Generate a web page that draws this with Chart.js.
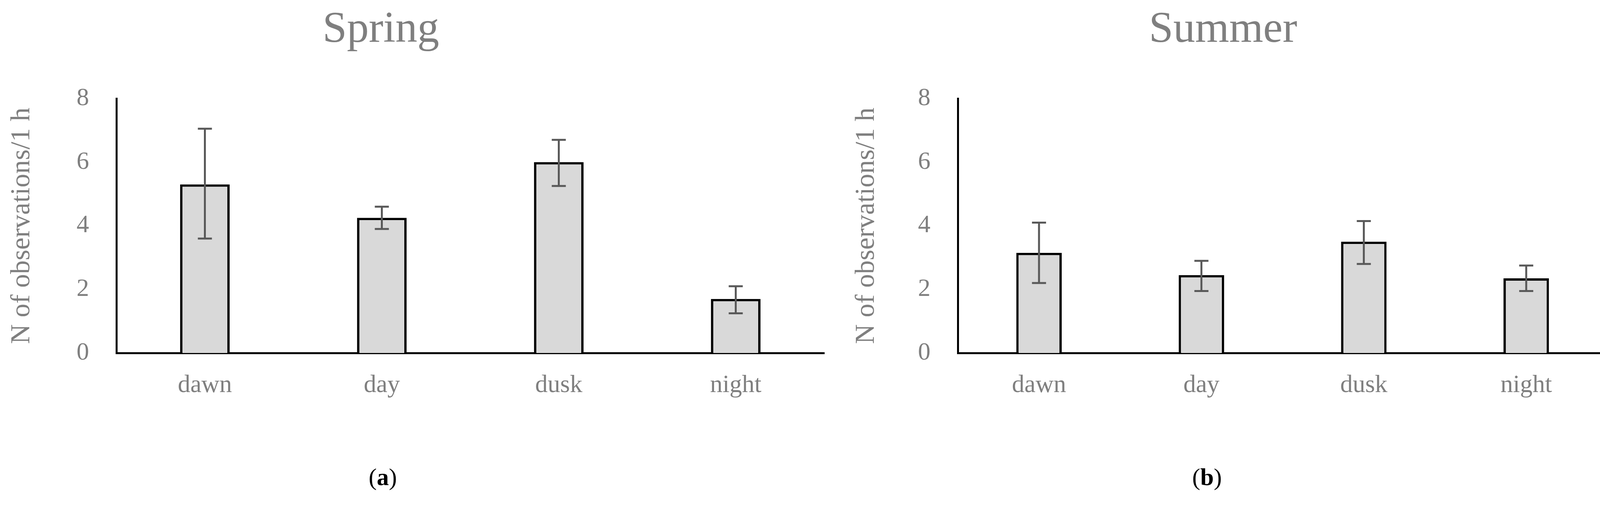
<!DOCTYPE html>
<html>
<head>
<meta charset="utf-8">
<script src="https://cdn.jsdelivr.net/npm/chart.js@4"></script>
<style>
  body { margin: 0; width: 4135px; height: 1297px; background: #fff; position: relative; overflow: hidden;
         font-family: "Liberation Serif", "DejaVu Serif", serif; }
  .box { position: absolute; top: 0; height: 1100px; }
  .ttl { position: absolute; top: 5px; font-size: 112px; color: #7f7f7f; text-align: center; }
  .lab { position: absolute; top: 1185px; font-size: 62px; color: #000; text-align: center; width: 200px; }
</style>
</head>
<body>
<div class="ttl" style="left:575px;width:800px;">Spring</div>
<div class="ttl" style="left:2731px;width:800px;">Summer</div>
<div class="box" style="left:0;width:2130px;"><canvas id="c1"></canvas></div>
<div class="box" style="left:2162px;width:1973px;"><canvas id="c2"></canvas></div>
<div class="lab" style="left:880px;">(<b>a</b>)</div>
<div class="lab" style="left:2990px;">(<b>b</b>)</div>
<script>
// periods of the day
const periods = ["dawn", "day", "dusk", "night"];

// spring: mean and error range
const springMean = [5.3, 4.25, 6.0, 1.7];
const springLow = [3.6, 3.9, 5.25, 1.25];
const springHigh = [7.05, 4.6, 6.7, 2.1];

// summer
const summerMean = [3.15, 2.45, 3.5, 2.35];
const summerLow = [2.2, 1.95, 2.8, 1.95];
const summerHigh = [4.1, 2.9, 4.15, 2.75];

const yTicks = [0, 2, 4, 6, 8];

const errorBars = {
  id: "errorBars",
  afterDatasetsDraw(chart, args, opts) {
    const ctx = chart.ctx;
    const meta = chart.getDatasetMeta(0);
    const y = chart.scales.y;
    ctx.save();
    ctx.strokeStyle = "#595959";
    ctx.lineWidth = 5;
    meta.data.forEach((bar, i) => {
      const top = y.getPixelForValue(opts.high[i]);
      const bot = y.getPixelForValue(opts.low[i]);
      ctx.beginPath();
      ctx.moveTo(bar.x, top); ctx.lineTo(bar.x, bot);
      ctx.moveTo(bar.x - 18, top); ctx.lineTo(bar.x + 18, top);
      ctx.moveTo(bar.x - 18, bot); ctx.lineTo(bar.x + 18, bot);
      ctx.stroke();
    });
    ctx.restore();
  }
};

function makeChart(id, mean, low, high, yWidth) {
  return new Chart(document.getElementById(id), {
    type: "bar",
    data: {
      labels: periods,
      datasets: [{
        data: mean,
        backgroundColor: "#d9d9d9",
        borderColor: "#000",
        borderWidth: 6,
        categoryPercentage: 1,
        barPercentage: 0.28
      }]
    },
    plugins: [errorBars],
    options: {
      responsive: true,
      maintainAspectRatio: false,
      animation: false,
      layout: { padding: { top: 252, right: 20, bottom: 30 } },
      plugins: {
        legend: { display: false },
        tooltip: { enabled: false },
        errorBars: { low: low, high: high }
      },
      scales: {
        x: {
          grid: { display: false, drawTicks: false },
          border: { color: "#000", width: 5 },
          ticks: { color: "#7f7f7f", font: { size: 64, family: "Liberation Serif" }, padding: 45 }
        },
        y: {
          min: 0, max: 8,
          afterBuildTicks: axis => { axis.ticks = yTicks.map(v => ({ value: v })); },
          afterFit: axis => { axis.width = yWidth; },
          grid: { display: false, drawTicks: false },
          border: { color: "#000", width: 5 },
          ticks: { color: "#7f7f7f", font: { size: 64, family: "Liberation Serif" }, padding: 70 },
          title: {
            display: true,
            text: "N of observations/1 h",
            color: "#7f7f7f",
            font: { size: 70, family: "Liberation Serif" },
            padding: { top: 15, bottom: 0 }
          }
        }
      }
    }
  });
}

makeChart("c1", springMean, springLow, springHigh, 298);
makeChart("c2", summerMean, summerLow, summerHigh, 290);
</script>
</body>
</html>
